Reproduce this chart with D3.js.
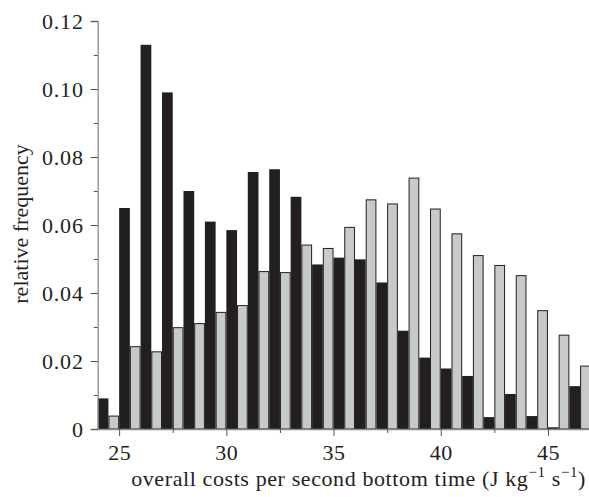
<!DOCTYPE html>
<html>
<head>
<meta charset="utf-8">
<script src="https://cdn.jsdelivr.net/npm/d3@7"></script>
<style>
  body { margin: 0; background: #fff; }
  svg text { font-family: "Liberation Serif", "Times New Roman", serif; fill: #231f20; }
</style>
</head>
<body>
<div id="container"></div>
<script>
(function(){

  // bin starts (J kg-1 s-1), one black + one grey bar per bin
  var bins = [24,25,26,27,28,29,30,31,32,33,34,35,36,37,38,39,40,41,42,43,44,45,46]
  var blackFreq = [0.009,0.065,0.113,0.099,0.070,0.061,0.0585,0.0756,0.0764,0.0683,0.0484,0.0504,0.0499,0.0431,0.0289,0.021,0.0178,0.0156,0.0035,0.0103,0.0038,0.0005,0.0126]
  var greyFreq  = [0.0038,0.0242,0.0227,0.0298,0.031,0.0343,0.0363,0.0463,0.046,0.0541,0.0531,0.0593,0.0674,0.0662,0.0738,0.0647,0.0574,0.051,0.0481,0.0451,0.0348,0.0276,0.0185]
  var xTicks = [25,30,35,40,45]
  var xMinor = [27.5,32.5,37.5,42.5]
  var yTicks = [0,0.02,0.04,0.06,0.08,0.10,0.12]
  var yMinor = [0.01,0.03,0.05,0.07,0.09,0.11]

  var width = 589, height = 497

  var svg = d3.select("#container")
    .append("svg")
      .attr("width", width)
      .attr("height", height)

  var x = d3.scaleLinear().domain([24, 47]).range([97.7, 97.7 + 23 * 21.44])
  var y = d3.scaleLinear().domain([0, 0.12]).range([429, 21])

  var data = bins.map(function(b, i){ return {bin: b, black: blackFreq[i], grey: greyFreq[i]} })

  // bars
  svg.selectAll('.black')
    .data(data)
    .enter().append('rect')
      .attr('class', 'black')
      .attr('x', function(d){ return x(d.bin) })
      .attr('width', function(d){ return x(d.bin + 0.5) - x(d.bin) })
      .attr('y', function(d){ return y(d.black) })
      .attr('height', function(d){ return y(0) - y(d.black) })
      .style('fill', '#231f20')

  svg.selectAll('.grey')
    .data(data)
    .enter().append('rect')
      .attr('class', 'grey')
      .attr('x', function(d){ return x(d.bin + 0.5) + 0.5 })
      .attr('width', function(d){ return x(d.bin + 1) - x(d.bin + 0.5) - 1 })
      .attr('y', function(d){ return y(d.grey) })
      .attr('height', function(d){ return y(0) - y(d.grey) })
      .style('fill', '#c8c9ca')
      .style('stroke', '#231f20')
      .style('stroke-width', 1)

  // y axis
  svg.append('g')
    .attr('class', 'yaxis')
    .attr('transform', 'translate(' + x(24) + ',0)')
    .call(d3.axisLeft(y).tickValues(yTicks).tickSize(7).tickPadding(7)
      .tickFormat(function(d){ return d === 0 ? '0' : d3.format('.2f')(d) }))
  svg.append('g')
    .attr('transform', 'translate(' + x(24) + ',0)')
    .call(d3.axisLeft(y).tickValues(yMinor).tickSize(4).tickFormat(''))
    .select('.domain').remove()

  // x axis
  svg.append('g')
    .attr('class', 'xaxis')
    .attr('transform', 'translate(0,' + y(0) + ')')
    .call(d3.axisBottom(x).tickValues(xTicks).tickSize(7).tickPadding(8).tickSizeOuter(0))
  svg.append('g')
    .attr('transform', 'translate(0,' + y(0) + ')')
    .call(d3.axisBottom(x).tickValues(xMinor).tickSize(4).tickFormat(''))
    .select('.domain').remove()

  svg.selectAll('.domain').style('stroke', '#8a8a8a').style('stroke-width', 1.3)
  svg.selectAll('.tick line').style('stroke', '#555')
  svg.selectAll('.tick text')
    .style('font-family', '"Liberation Serif", serif')
    .style('font-size', '22px')
    .style('fill', '#231f20')
  svg.selectAll('.yaxis .tick text').style('letter-spacing', '0.8px')
  svg.selectAll('.xaxis .tick text').style('letter-spacing', '0.5px')

  // axis titles
  svg.append('text')
    .attr('transform', 'translate(28,224) rotate(-90)')
    .attr('text-anchor', 'middle')
    .style('font-size', '22px')
    .text('relative frequency')

  var xt = svg.append('text')
    .attr('x', 586)
    .attr('y', 486)
    .attr('text-anchor', 'end')
    .style('font-size', '22px')
    .style('letter-spacing', '0.6px')
  xt.append('tspan').text('overall costs per second bottom time (J kg')
  xt.append('tspan').attr('dy', -9).style('font-size', '15px').text('\u22121')
  xt.append('tspan').attr('dy', 9).text(' s')
  xt.append('tspan').attr('dy', -9).style('font-size', '15px').text('\u22121')
  xt.append('tspan').attr('dy', 9).text(')')

})()
</script>
</body>
</html>
